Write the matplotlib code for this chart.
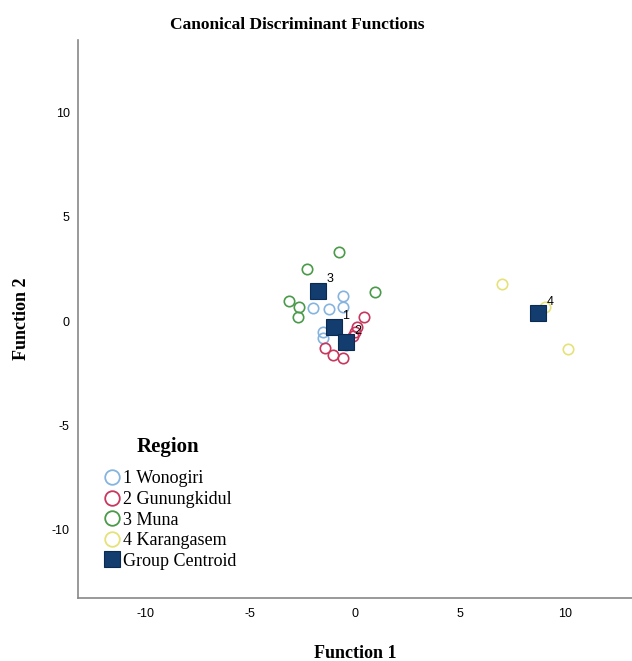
import matplotlib
matplotlib.use('Agg')
import matplotlib.pyplot as plt
from matplotlib.lines import Line2D

plt.rcParams['axes.unicode_minus'] = False

# Canonical discriminant function scores
regions = ['1 Wonogiri', '2 Gunungkidul', '3 Muna', '4 Karangasem']
colors = ['#86b4e0', '#c8385e', '#4a9a4a', '#e6e27a']

wonogiri_f1 = [-0.59, -1.98, -1.22, -0.56, -1.51, -1.51, -0.43]
wonogiri_f2 = [1.22, 0.64, 0.56, 0.66, -0.51, -0.83, -1.15]
gunungkidul_f1 = [0.44, 0.11, 0.0, -0.11, -1.43, -1.03, -0.59]
gunungkidul_f2 = [0.18, -0.30, -0.51, -0.72, -1.31, -1.63, -1.75]
muna_f1 = [-0.75, -2.27, 0.95, -3.14, -2.65, -2.70]
muna_f2 = [3.33, 2.50, 1.38, 0.96, 0.66, 0.18]
karangasem_f1 = [7.02, 9.05, 10.13]
karangasem_f2 = [1.78, 0.68, -1.35]

centroid_labels = ['1', '2', '3', '4']
centroid_f1 = [-1.00, -0.44, -1.75, 8.73]
centroid_f2 = [-0.30, -1.02, 1.46, 0.37]

f1_groups = [wonogiri_f1, gunungkidul_f1, muna_f1, karangasem_f1]
f2_groups = [wonogiri_f2, gunungkidul_f2, muna_f2, karangasem_f2]

serif = 'Liberation Serif'
sans = 'Liberation Sans'

fig = plt.figure(figsize=(6.32, 6.61), dpi=100)
ax = fig.add_axes([78 / 632, 63 / 661, 1 - 78 / 632, 558 / 661])

# group cases as open circles
for f1, f2, col in zip(f1_groups, f2_groups, colors):
    ax.plot(f1, f2, 'o', ms=7.5, mfc='none', mec=col, mew=1.2, zorder=2)

# group centroids
centroid_color = '#123d6e'
ax.plot(centroid_f1, centroid_f2, 's', ms=11, mfc=centroid_color, mec='#0b2a4f',
        mew=0.8, zorder=3)
for lab, cx, cy in zip(centroid_labels, centroid_f1, centroid_f2):
    ax.annotate(lab, (cx, cy), xytext=(6, 6), textcoords='offset points',
                fontsize=9, family=sans, zorder=4)

ax.set_xlim(-13.2, 13.2)
ax.set_ylim(-13.3, 13.5)
ax.set_xticks([-10, -5, 0, 5, 10])
ax.set_yticks([-10, -5, 0, 5, 10])
ax.tick_params(length=0, labelsize=9)
ax.tick_params(axis='x', pad=7)
ax.tick_params(axis='y', pad=6)
for t in ax.get_xticklabels() + ax.get_yticklabels():
    t.set_family(sans)

for pos in ['top', 'right']:
    ax.spines[pos].set_visible(False)
for pos in ['left', 'bottom']:
    ax.spines[pos].set_color('#888888')
    ax.spines[pos].set_linewidth(1.2)

ax.set_title('Canonical Discriminant Functions', fontsize=12.5, family=serif,
             fontweight='bold', pad=8, x=0.395)
ax.set_xlabel('Function 1', fontsize=13, family=serif, fontweight='bold')
ax.set_ylabel('Function 2', fontsize=13, family=serif, fontweight='bold')
ax.xaxis.set_label_coords(0.5, -0.084)
ax.yaxis.set_label_coords(-0.087, 0.5)

# legend
handles = [Line2D([], [], marker='o', ls='none', ms=10.5, mfc='none', mec=c, mew=1.3)
           for c in colors]
handles.append(Line2D([], [], marker='s', ls='none', ms=11, mfc=centroid_color,
                      mec='#0b2a4f', mew=0.8))
leg = ax.legend(handles, regions + ['Group Centroid'], loc='lower left',
                bbox_to_anchor=(0.025, 0.028), frameon=False,
                prop={'family': serif, 'size': 13},
                handlelength=0.8, handletextpad=0.2, labelspacing=0.2,
                borderpad=0.2)
ax.text(0.163, 0.27, 'Region', transform=ax.transAxes, ha='center', va='center',
        family=serif, fontsize=15, fontweight='bold')

fig.savefig('out.png', dpi=100)
